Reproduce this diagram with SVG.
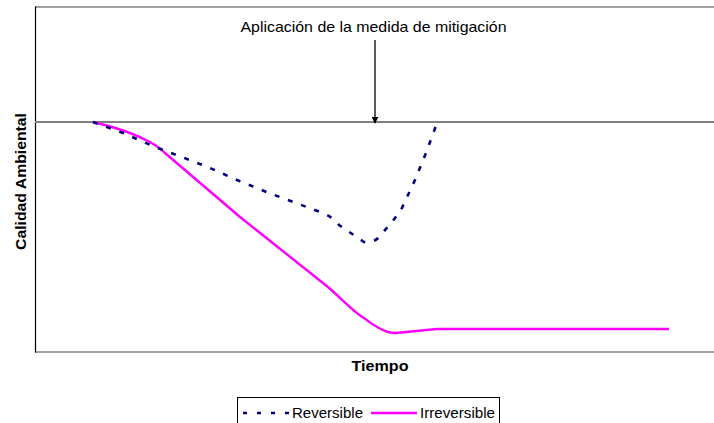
<svg xmlns="http://www.w3.org/2000/svg" width="714" height="423" viewBox="0 0 714 423">
<style>
.t{font-family:"Liberation Sans",Arial,sans-serif;fill:#000}
.b{font-weight:bold}
.rev{fill:none;stroke:#000080;stroke-width:2.6;stroke-dasharray:5 9}
.irr{fill:none;stroke:#FF00FF;stroke-width:2.4;stroke-linejoin:round}
.grid{stroke:#808080;fill:none}
</style>
<defs>
<marker id="ah" viewBox="0 0 10 10" refX="9" refY="5" markerWidth="7" markerHeight="7" markerUnits="userSpaceOnUse" orient="auto">
<path d="M0,0 L10,5 L0,10 z" fill="#000"/>
</marker>
</defs>
<rect width="714" height="423" fill="#fff"/>
<g id="frame">
<line class="grid" x1="35" y1="7" x2="714" y2="7" stroke-width="1.3"/>
<line class="grid" x1="35" y1="352" x2="714" y2="352" stroke-width="1.3"/>
<line x1="35.5" y1="6.5" x2="35.5" y2="352.5" stroke="#000" stroke-width="1.2"/>
</g>
<g id="baseline">
<line class="grid" x1="35" y1="122" x2="714" y2="122" stroke-width="2"/>
</g>
<g id="connectors">
<line x1="375" y1="40" x2="375" y2="123" stroke="#000" stroke-width="1.3" marker-end="url(#ah)"/>
<path class="irr" d="M93,122 C115,127 135,134 150,142 C157,146 160,148 165,153 L240,217 L328,287 C345,302 355,313 364,318 C372,324 378,329 388,332 C392,333 394,333 396,333 L437,329 L669,329"/>
<path class="rev" d="M93,122 L123,133 L155,147 L182,157 L210,168 L237,180 L269,193 L296,203 L323,213 C330,216 335,220 339,225 L364,242 C370,243 375,241 378,238 L392,222 L401,210 L415,180 L426,153 L437,123"/>
</g>
<g id="title">
<text class="t" x="373.5" y="32" font-size="14.5" text-anchor="middle" textLength="266" lengthAdjust="spacingAndGlyphs">Aplicación de la medida de mitigación</text>
</g>
<g id="xlabel">
<text class="t b" x="380" y="371" font-size="15" text-anchor="middle" textLength="57" lengthAdjust="spacingAndGlyphs">Tiempo</text>
</g>
<g id="ylabel">
<text class="t b" transform="translate(26,181.5) rotate(-90)" x="0" y="0" font-size="15" text-anchor="middle" textLength="137" lengthAdjust="spacingAndGlyphs">Calidad  Ambiental</text>
</g>
<g id="legend">
<rect x="237.5" y="397.5" width="262" height="30" fill="#fff" stroke="#000" stroke-width="1"/>
<line class="rev" x1="243" y1="413" x2="289" y2="413" style="stroke-dasharray:4 10"/>
<text class="t" x="292" y="418" font-size="15" textLength="71" lengthAdjust="spacingAndGlyphs">Reversible</text>
<line class="irr" x1="371" y1="413" x2="417" y2="413"/>
<text class="t" x="420" y="418" font-size="15" textLength="75" lengthAdjust="spacingAndGlyphs">Irreversible</text>
</g>
</svg>
